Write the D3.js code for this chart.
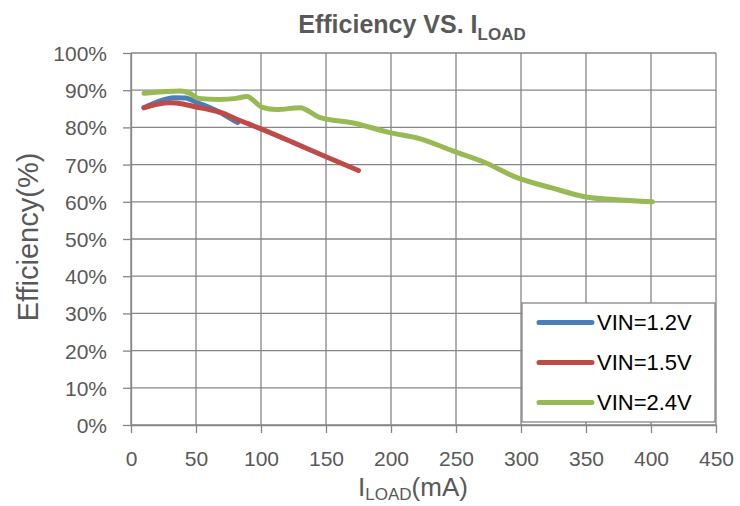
<!DOCTYPE html>
<html>
<head>
<meta charset="utf-8">
<script src="https://cdn.jsdelivr.net/npm/d3@7"></script>
<style>
  html, body { margin: 0; padding: 0; background: #fff; }
  svg { display: block; font-family: "Liberation Sans", Arial, sans-serif; }
</style>
</head>
<body>
<script>
// values (mA, %)
const load12 = [10, 20, 33, 42, 51, 60, 68, 75, 82];
const eff12 = [85.3, 86.8, 88.0, 87.9, 86.6, 85.4, 84.1, 82.7, 81.3];

const load15 = [10, 20, 30, 40, 50, 60, 70, 80, 90, 100, 125, 150, 175];
const eff15 = [85.3, 86.2, 86.6, 86.3, 85.5, 84.8, 83.9, 82.4, 81.0, 79.6, 75.9, 72.1, 68.4];

const load24 = [10, 25, 38, 45, 52, 68, 81, 89, 101, 112, 130, 145, 171, 199, 222, 248, 274, 294, 325, 350, 371, 401];
const eff24 = [89.2, 89.6, 89.8, 89.2, 87.8, 87.5, 87.8, 88.3, 85.4, 84.8, 85.3, 82.7, 81.2, 78.6, 77.0, 73.6, 70.3, 66.9, 63.6, 61.3, 60.6, 60.0];

const seriesNames = ["VIN=1.2V", "VIN=1.5V", "VIN=2.4V"];
const seriesColors = ["#4A7EBB", "#BE4B48", "#98B954"];
const xTicks = [0, 50, 100, 150, 200, 250, 300, 350, 400, 450];
const yTicks = [0, 10, 20, 30, 40, 50, 60, 70, 80, 90, 100];

const W = 740, H = 506;
const margin = {top: 53, right: 24, bottom: 81, left: 131};
const width = W - margin.left - margin.right;
const height = H - margin.top - margin.bottom;

const textGray = "#595959";
const gridGray = "#868686";

const svg = d3.select("body").append("svg")
  .attr("width", W)
  .attr("height", H);

const g = svg.append("g")
  .attr("transform", `translate(${margin.left},${margin.top})`);

const x = d3.scaleLinear().domain([0, 450]).range([0, width]);
const y = d3.scaleLinear().domain([0, 100]).range([height, 0]);

// grid
g.append("g").selectAll("line")
  .data(yTicks)
  .join("line")
  .attr("x1", 0).attr("x2", width)
  .attr("y1", d => y(d)).attr("y2", d => y(d))
  .attr("stroke", gridGray).attr("stroke-width", 1.3);

g.append("g").selectAll("line")
  .data(xTicks)
  .join("line")
  .attr("x1", d => x(d)).attr("x2", d => x(d))
  .attr("y1", 0).attr("y2", height)
  .attr("stroke", gridGray).attr("stroke-width", 1.3);

// axes
const xAxis = g.append("g")
  .attr("transform", `translate(0,${height})`)
  .call(d3.axisBottom(x).tickValues(xTicks).tickSize(8).tickPadding(18).tickSizeOuter(0));

const yAxis = g.append("g")
  .call(d3.axisLeft(y).tickValues(yTicks).tickSize(8).tickPadding(16).tickSizeOuter(0)
    .tickFormat(d => d + "%"));

[xAxis, yAxis].forEach(a => {
  a.select(".domain").attr("stroke", gridGray).attr("stroke-width", 1.3);
  a.selectAll(".tick line").attr("stroke", gridGray).attr("stroke-width", 1.3);
  a.selectAll("text")
    .attr("fill", textGray)
    .style("font-size", "21px")
    .style("font-family", "'Liberation Sans', Arial, sans-serif");
});
xAxis.selectAll("text").attr("dy", "0.71em");
yAxis.selectAll("text").attr("dy", "0.36em");

// lines
const seriesData = [
  load12.map((v, i) => ({x: v, y: eff12[i]})),
  load15.map((v, i) => ({x: v, y: eff15[i]})),
  load24.map((v, i) => ({x: v, y: eff24[i]}))
];

const line = d3.line()
  .x(d => x(d.x))
  .y(d => y(d.y))
  .curve(d3.curveMonotoneX);

seriesData.forEach((s, i) => {
  g.append("path")
    .datum(s)
    .attr("fill", "none")
    .attr("stroke", seriesColors[i])
    .attr("stroke-width", 5)
    .attr("stroke-linecap", "round")
    .attr("stroke-linejoin", "round")
    .attr("d", line);
});

// legend
const legend = svg.append("g").attr("transform", "translate(522,303)");
legend.append("rect")
  .attr("width", 193).attr("height", 119)
  .attr("fill", "#fff")
  .attr("stroke", gridGray).attr("stroke-width", 1.3);

seriesNames.forEach((name, i) => {
  const ly = 19.5 + i * 40;
  legend.append("line")
    .attr("x1", 17).attr("x2", 70)
    .attr("y1", ly).attr("y2", ly)
    .attr("stroke", seriesColors[i])
    .attr("stroke-width", 5)
    .attr("stroke-linecap", "round");
  legend.append("text")
    .attr("x", 75).attr("y", ly)
    .attr("dy", "0.36em")
    .attr("fill", "#000")
    .style("font-size", "22px")
    .text(name);
});

// title
const title = svg.append("text")
  .attr("x", 412).attr("y", 33)
  .attr("text-anchor", "middle")
  .attr("fill", textGray)
  .style("font-size", "25px")
  .style("font-weight", "bold");
title.append("tspan").text("Efficiency VS. I");
title.append("tspan").attr("dy", 7).style("font-size", "17px").text("LOAD");

// x axis title
const xTitle = svg.append("text")
  .attr("x", 413).attr("y", 496)
  .attr("text-anchor", "middle")
  .attr("fill", textGray)
  .style("font-size", "26px");
xTitle.append("tspan").text("I");
xTitle.append("tspan").attr("dy", 4).style("font-size", "17px").text("LOAD");
xTitle.append("tspan").attr("dy", -4).text("(mA)");

// y axis title
svg.append("text")
  .attr("transform", "translate(38,237) rotate(-90)")
  .attr("text-anchor", "middle")
  .attr("fill", textGray)
  .style("font-size", "29px")
  .text("Efficiency(%)");
</script>
</body>
</html>
